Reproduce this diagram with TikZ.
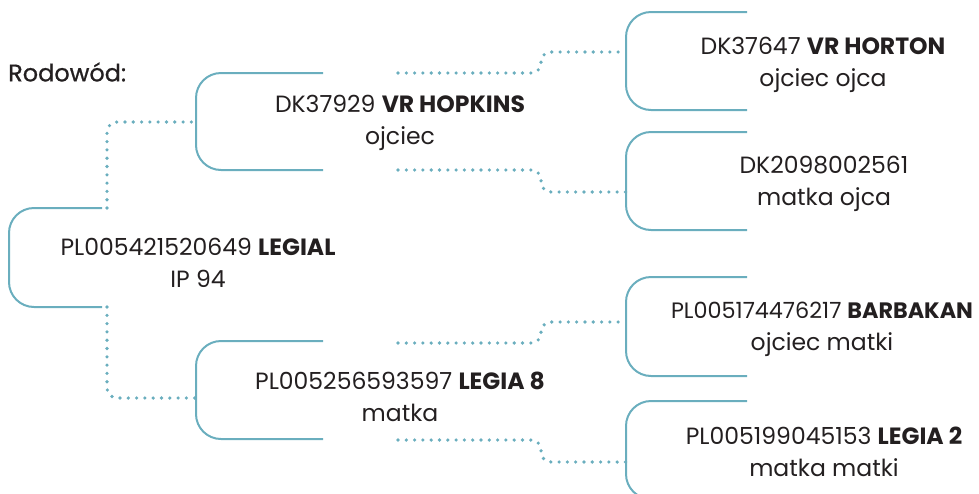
\documentclass[tikz,border=0pt]{standalone}
\usepackage{fontspec}
\setmainfont{Poppins}
\newfontfamily\medfont{Poppins}[FakeBold=0.8]
\usetikzlibrary{positioning}
\definecolor{tealline}{HTML}{6AAEBE}
\definecolor{ink}{HTML}{231F20}
\tikzset{
  bracket/.style={draw=tealline,line width=2pt,rounded corners=25pt},
  link/.style={draw=tealline,line width=3.6pt,line cap=round,dash pattern=on 0pt off 8.3pt,rounded corners=10pt},
  horse/.style={align=center,text=ink,font=\fontsize{23.5}{32}\selectfont,inner sep=0pt},
  title/.style={font=\medfont\fontsize{24}{28}\selectfont,text=ink,inner sep=0pt}
}

\begin{document}
\begin{tikzpicture}[x=1pt,y=-1pt]
\useasboundingbox (0,0) rectangle (979,493);
\node[title,anchor=west] (head) at (8,72) {Rodowód:};
% brackets: left x / top y / bottom y / right end
\foreach \x/\t/\b/\e in {9/208/307/102,196/73/170/323,196/341/439/323,626/12/110/747,626/132/230/747,626/277/376/747,626/401/499/747}
  \draw[bracket] (\e,\t) -| (\x,\b) -- (\e,\b);
\node[horse] (legial) at (198,263) {PL005421520649 \textbf{LEGIAL}\\IP 94};
\node[horse] (hopkins) at (400,123) {DK37929 \textbf{VR HOPKINS}\\ojciec};
\node[horse] (legia8) at (400,397) {PL005256593597 \textbf{LEGIA 8}\\matka};
\node[horse] (horton) at (823,65) {DK37647 \textbf{VR HORTON}\\ojciec ojca};
\node[horse] (dk209) at (824,184) {DK2098002561\\matka ojca};
\node[horse,font=\fontsize{22.3}{32}\selectfont] (barbakan) at (822,329) {PL005174476217 \textbf{BARBAKAN}\\\fontsize{23.5}{32}\selectfont ojciec matki};
\node[horse] (legia2) at (824,452) {PL005199045153 \textbf{LEGIA 2}\\matka matki};
% link ends
\coordinate (legial-t) at (107,208);
\coordinate (legial-b) at (107,307);
\coordinate (hopkins-in) at (196,122);
\coordinate (legia8-in) at (196,398);
\coordinate (hopkins-t) at (398,73);
\coordinate (hopkins-b) at (398,170);
\coordinate (legia8-t) at (398,343);
\coordinate (legia8-b) at (398,440);
\coordinate (horton-in) at (626,52);
\coordinate (dk209-in) at (626,192);
\coordinate (barbakan-in) at (626,322);
\coordinate (legia2-in) at (626,462);
\draw[link] (legial-t) |- (hopkins-in);
\draw[link] (legial-b) |- (legia8-in);
\foreach \a/\b in {hopkins-t/horton-in,hopkins-b/dk209-in,legia8-t/barbakan-in,legia8-b/legia2-in}
  \draw[link] (\a) -- ++(143,0) |- (\b);
\end{tikzpicture}
\end{document}
